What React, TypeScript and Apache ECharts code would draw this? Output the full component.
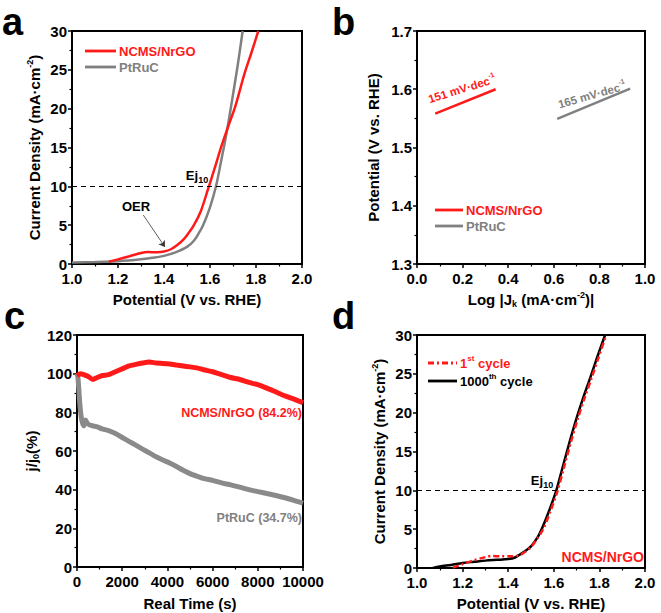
import React, { useEffect, useRef } from 'react';
import * as echarts from 'echarts';

const FF = '"Liberation Sans", Arial, Helvetica, sans-serif';
const RED = '#ff1a1a';
const GREY = '#808080';
const CGREY = '#8a8a8a';

// Panel a: LSV curves (Potential V vs RHE, current density mA/cm2)
const aRed: [number, number][] = [
  [1.16, 0.3], [1.2, 0.6], [1.25, 1.0], [1.3, 1.42], [1.33, 1.55], [1.37, 1.5], [1.4, 1.6],
  [1.43, 1.9], [1.46, 2.5], [1.48, 3.0], [1.5, 3.7], [1.53, 5.0], [1.56, 6.8], [1.59, 9.5],
  [1.62, 12.3], [1.65, 15.2], [1.68, 17.8], [1.71, 20.3], [1.75, 24.5], [1.78, 27.2], [1.81, 30],
];
const aGrey: [number, number][] = [
  [1.0, 0.2], [1.1, 0.25], [1.2, 0.35], [1.3, 0.6], [1.35, 0.8], [1.4, 1.05], [1.45, 1.5],
  [1.5, 2.2], [1.53, 3.0], [1.55, 3.9], [1.57, 5.0], [1.6, 7.3], [1.626, 10], [1.65, 13.5],
  [1.67, 16.5], [1.69, 20], [1.72, 25.5], [1.742, 30],
];
// Panel b: Tafel fits
const bRed: [number, number][] = [[0.08, 1.558], [0.345, 1.6]];
const bGrey: [number, number][] = [[0.615, 1.549], [0.935, 1.601]];
// Panel c: chronoamperometry (time s, j/j0 %)
const cRed: [number, number][] = [
  [0, 99], [150, 100], [300, 99.5], [500, 98.5], [700, 97], [900, 98], [1100, 99], [1400, 99.5],
  [1700, 101], [2000, 102.5], [2300, 104], [2600, 104.8], [2900, 105.5], [3200, 106], [3500, 105.5],
  [3800, 105.3], [4100, 105], [4400, 104.5], [4700, 104], [5000, 103.5], [5300, 103], [5600, 102],
  [6000, 101], [6400, 99.5], [6800, 98], [7200, 97], [7600, 95.5], [8000, 94.3], [8400, 92.5],
  [8800, 90.5], [9200, 88.5], [9600, 86.8], [10000, 85],
];
const cGrey: [number, number][] = [
  [0, 100], [40, 98], [80, 92], [120, 85], [170, 79], [230, 75], [300, 73], [380, 76], [450, 74.5],
  [550, 73.5], [700, 73], [900, 72.5], [1100, 71.5], [1400, 70.5], [1700, 69], [2000, 67], [2300, 65],
  [2600, 63], [2900, 61], [3200, 59], [3500, 57], [3800, 55.3], [4100, 53.8], [4400, 52], [4700, 50],
  [5000, 48.3], [5300, 47], [5600, 45.8], [6000, 44.8], [6400, 43.5], [6800, 42.5], [7200, 41.3],
  [7600, 40], [8000, 39], [8400, 38], [8800, 37], [9200, 35.8], [9600, 34.5], [10000, 33],
];
// Panel d: 1st vs 1000th cycle
const d1st: [number, number][] = [
  [1.158, 0.05], [1.2, 0.5], [1.25, 1.0], [1.3, 1.4], [1.33, 1.55], [1.37, 1.5], [1.41, 1.5],
  [1.45, 1.65], [1.47, 2.0], [1.5, 2.7], [1.53, 3.9], [1.555, 5.1], [1.585, 7.3], [1.615, 9.8],
  [1.645, 13], [1.675, 16.2], [1.705, 19.2], [1.735, 21.9], [1.765, 24.4], [1.795, 27], [1.83, 30],
];
const d1000: [number, number][] = [
  [1.07, 0], [1.1, 0.2], [1.15, 0.4], [1.2, 0.65], [1.25, 0.8], [1.3, 0.95], [1.35, 1.05],
  [1.4, 1.15], [1.43, 1.35], [1.46, 1.9], [1.5, 2.8], [1.53, 4.0], [1.55, 5.2], [1.58, 7.4],
  [1.61, 9.9], [1.64, 13.1], [1.67, 16.3], [1.7, 19.3], [1.73, 22.0], [1.76, 24.5], [1.79, 27.1],
  [1.825, 30],
];

const SUP = { fontSize: 9, fontWeight: 'bold' as const, fontFamily: FF, verticalAlign: 'top' as const, lineHeight: 10 };
const SUB = { fontSize: 9, fontWeight: 'bold' as const, fontFamily: FF, verticalAlign: 'bottom' as const, lineHeight: 10 };

function axis(gi: number, min: number, max: number, interval: number, dec: number, name: string, gap: number, vertical: boolean) {
  return {
    type: 'value',
    gridIndex: gi,
    min,
    max,
    interval,
    axisLine: { show: true, onZero: false, lineStyle: { color: '#000', width: 2 } },
    axisTick: { show: true, inside: false, length: 4, lineStyle: { color: '#000', width: 1.5 } },
    minorTick: { show: true, splitNumber: 2, length: 2.5, lineStyle: { color: '#000', width: 1.2 } },
    splitLine: { show: false },
    minorSplitLine: { show: false },
    axisLabel: {
      color: '#000',
      fontSize: 15,
      fontWeight: 'bold',
      fontFamily: FF,
      margin: vertical ? 5 : 7,
      formatter: (v: number) => v.toFixed(dec),
    },
    name,
    nameLocation: 'middle',
    nameGap: gap,
    nameRotate: vertical ? 90 : 0,
    nameTextStyle: {
      color: '#000',
      fontSize: 15,
      fontWeight: 'bold',
      fontFamily: FF,
      lineHeight: 18,
      rich: { sup: SUP, sub: SUB },
    },
  };
}

function txt(x: number, y: number, text: string, color: string, size: number, align: string, rot = 0, lh = size + 5) {
  return {
    type: 'text',
    x,
    y,
    rotation: rot,
    silent: true,
    style: {
      text,
      fill: color,
      font: `bold ${size}px ${FF}`,
      fontSize: size,
      fontWeight: 'bold',
      fontFamily: FF,
      textAlign: align,
      align,
      textVerticalAlign: 'middle',
      verticalAlign: 'middle',
      lineHeight: lh,
      rich: {
        sup: { ...SUP, fill: color, color, fontSize: Math.round(size * 0.65) },
        sub: { ...SUB, fill: color, color, fontSize: Math.round(size * 0.7) },
      },
    },
  };
}

function seg(x1: number, x2: number, y: number, color: string, dash?: number[]) {
  return {
    type: 'line',
    silent: true,
    shape: { x1, y1: y, x2, y2: y },
    style: { stroke: color, lineWidth: 2.8, lineDash: dash || null },
  };
}

export default function App() {
  const ref = useRef<HTMLDivElement>(null);
  useEffect(() => {
    if (!ref.current) return;
    const chart = echarts.init(ref.current, undefined, { renderer: 'svg' });
    const gridBase = { show: true, borderColor: '#000', borderWidth: 2, backgroundColor: 'transparent', containLabel: false };
    const lineBase = { type: 'line', showSymbol: false, symbol: 'none', smooth: 0.3 };
    const option: any = {
      animation: false,
      backgroundColor: '#fff',
      grid: [
        { ...gridBase, left: 72, top: 31, width: 230, height: 233 },
        { ...gridBase, left: 417, top: 31, width: 228, height: 233 },
        { ...gridBase, left: 77, top: 335, width: 226, height: 234 },
        { ...gridBase, left: 417, top: 335, width: 228, height: 234 },
      ],
      xAxis: [
        axis(0, 1.0, 2.0, 0.2, 1, 'Potential (V vs. RHE)', 26, false),
        axis(1, 0, 1, 0.2, 1, 'Log |J{sub|k} (mA·cm{sup|-2})|', 26, false),
        axis(2, 0, 10000, 2000, 0, 'Real Time (s)', 27, false),
        axis(3, 1.0, 2.0, 0.2, 1, 'Potential (V vs. RHE)', 26, false),
      ],
      yAxis: [
        axis(0, 0, 30, 5, 0, 'Current Density (mA·cm{sup|-2})', 29, true),
        axis(1, 1.3, 1.7, 0.1, 1, 'Potential (V vs. RHE)', 35, true),
        axis(2, 0, 120, 20, 0, 'j/j{sub|0}(%)', 37, true),
        axis(3, 0, 30, 5, 0, 'Current Density (mA·cm{sup|-2})', 29, true),
      ],
      series: [
        {
          ...lineBase,
          name: 'PtRuC',
          xAxisIndex: 0,
          yAxisIndex: 0,
          data: aGrey,
          z: 2,
          lineStyle: { color: GREY, width: 2.5 },
          itemStyle: { color: GREY },
          markLine: {
            silent: true,
            symbol: 'none',
            label: { show: false },
            lineStyle: { type: [5, 4], color: '#000', width: 1 },
            data: [{ yAxis: 10 }],
          },
        },
        {
          ...lineBase,
          name: 'NCMS/NrGO',
          xAxisIndex: 0,
          yAxisIndex: 0,
          data: aRed,
          z: 3,
          lineStyle: { color: RED, width: 2.5 },
          itemStyle: { color: RED },
          markLine: {
            silent: true,
            symbol: ['none', 'arrow'],
            symbolSize: 6,
            label: { show: false },
            lineStyle: { type: 'solid', color: '#333', width: 0.8 },
            data: [[{ coord: [1.31, 6.3] }, { coord: [1.404, 2.2] }]],
          },
        },
        {
          ...lineBase,
          smooth: false,
          name: 'NCMS/NrGO',
          xAxisIndex: 1,
          yAxisIndex: 1,
          data: bRed,
          lineStyle: { color: RED, width: 2.5 },
          itemStyle: { color: RED },
        },
        {
          ...lineBase,
          smooth: false,
          name: 'PtRuC',
          xAxisIndex: 1,
          yAxisIndex: 1,
          data: bGrey,
          lineStyle: { color: GREY, width: 2.5 },
          itemStyle: { color: GREY },
        },
        {
          ...lineBase,
          name: 'PtRuC (34.7%)',
          xAxisIndex: 2,
          yAxisIndex: 2,
          data: cGrey,
          smooth: 0.2,
          lineStyle: { color: CGREY, width: 5 },
          itemStyle: { color: CGREY },
        },
        {
          ...lineBase,
          name: 'NCMS/NrGO (84.2%)',
          xAxisIndex: 2,
          yAxisIndex: 2,
          data: cRed,
          smooth: 0.2,
          lineStyle: { color: RED, width: 5 },
          itemStyle: { color: RED },
        },
        {
          ...lineBase,
          name: '1000th cycle',
          xAxisIndex: 3,
          yAxisIndex: 3,
          data: d1000,
          z: 2,
          lineStyle: { color: '#000', width: 2.5 },
          itemStyle: { color: '#000' },
          markLine: {
            silent: true,
            symbol: 'none',
            label: { show: false },
            lineStyle: { type: [5, 4], color: '#000', width: 1 },
            data: [{ yAxis: 10 }],
          },
        },
        {
          ...lineBase,
          name: '1st cycle',
          xAxisIndex: 3,
          yAxisIndex: 3,
          data: d1st,
          z: 3,
          lineStyle: { color: RED, width: 2.5, type: [6, 3, 2, 3] },
          itemStyle: { color: RED },
        },
      ],
      graphic: [
        // panel letters
        txt(2, 22, 'a', '#000', 38, 'left', 0, 38),
        txt(332, 22, 'b', '#000', 38, 'left', 0, 38),
        txt(4, 316, 'c', '#000', 38, 'left', 0, 38),
        txt(332, 316, 'd', '#000', 38, 'left', 0, 38),
        // legend a
        seg(85, 116, 51, RED),
        txt(119, 51, 'NCMS/NrGO', RED, 13, 'left'),
        seg(85, 116, 67, GREY),
        txt(119, 67, 'PtRuC', GREY, 13, 'left'),
        // legend b
        seg(435, 463, 210, RED),
        txt(466, 210, 'NCMS/NrGO', RED, 13, 'left'),
        seg(435, 463, 226, GREY),
        txt(466, 226, 'PtRuC', GREY, 13, 'left'),
        // legend d
        seg(428, 457, 363, RED, [6, 3, 2, 3]),
        txt(460, 363, '1{sup|st} cycle', RED, 13, 'left'),
        seg(428, 457, 381, '#000'),
        txt(460, 381, '1000{sup|th} cycle', '#000', 13, 'left'),
        // annotations
        txt(197, 175, 'Ej{sub|10}', '#000', 13, 'center'),
        txt(136, 206, 'OER', '#000', 13, 'center'),
        txt(462, 89, '151 mV·dec{sup|-1}', RED, 11.5, 'center', 0.3),
        txt(592, 95, '165 mV·dec{sup|-1}', GREY, 11.5, 'center', 0.28),
        txt(302, 413, 'NCMS/NrGO (84.2%)', RED, 12.5, 'right'),
        txt(302, 518, 'PtRuC (34.7%)', GREY, 12.5, 'right'),
        txt(542, 480, 'Ej{sub|10}', '#000', 13, 'center'),
        txt(644, 557, 'NCMS/NrGO', RED, 14, 'right'),
      ],
    };
    chart.setOption(option);
    return () => chart.dispose();
  }, []);
  return (
    <div
      ref={ref}
      style={{ position: 'fixed', left: 0, top: 0, width: 661, height: 613, background: '#fff' }}
    />
  );
}
